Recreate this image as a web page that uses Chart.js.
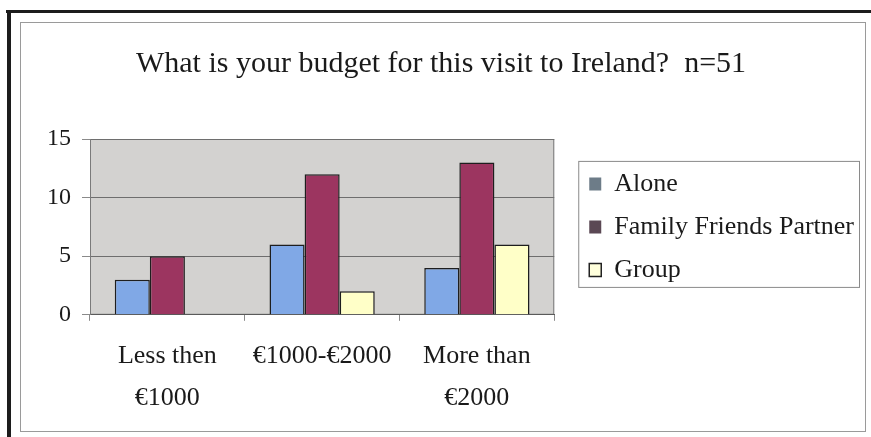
<!DOCTYPE html>
<html>
<head>
<meta charset="utf-8">
<title>Budget for visit to Ireland</title>
<script src="https://cdn.jsdelivr.net/npm/chart.js@4/dist/chart.umd.min.js"></script>
<style>
    html, body { margin: 0; padding: 0; background: #ffffff; }
    #wrap { position: relative; width: 871px; height: 437px; overflow: hidden; }
    /* scanned frame round the chart */
    .edge-top { position: absolute; left: 6px; top: 10px; width: 865px; height: 3px; background: #1c1c1c; }
    .edge-left { position: absolute; left: 7px; top: 10px; width: 4px; height: 427px; background: #1c1c1c; }
    .inner { position: absolute; left: 20px; top: 22px; width: 844px; height: 408px; border: 1px solid #9a9a9a; }
    canvas { position: absolute; left: 0; top: 0; }
</style>
</head>
<body>
<div id="wrap">
    <div class="edge-top"></div>
    <div class="edge-left"></div>
    <div class="inner"></div>
    <canvas id="budgetChart" width="871" height="437"></canvas>
</div>
<script>
// Chart data
const categories = [['Less then', '€1000'], '€1000-€2000', ['More than', '€2000']];
const aloneValues = [3, 6, 4];
const familyValues = [5, 12, 13];
const groupValues = [0, 2, 6];
const seriesNames = ['Alone', 'Family Friends Partner', 'Group'];
const yTicks = [0, 5, 10, 15];

const serif = "'Liberation Serif', 'Times New Roman', serif";
const inkColor = '#1a1a1a';

// Legend swatches look different from the bars in the original
const legendSwatches = [
    { fill: '#6d7c88', stroke: '#6d7c88', width: 0 },
    { fill: '#5b4854', stroke: '#5b4854', width: 0 },
    { fill: '#ffffdc', stroke: '#222222', width: 1.5 }
];

// Gray plot background with a thin frame
const plotBackground = {
    id: 'plotBackground',
    beforeDraw(chart) {
        const { ctx, chartArea: a } = chart;
        ctx.save();
        ctx.fillStyle = '#d3d2d0';
        ctx.fillRect(a.left, a.top, a.right - a.left, a.bottom - a.top);
        ctx.strokeStyle = '#7a7a7a';
        ctx.lineWidth = 1;
        ctx.strokeRect(a.left + 0.5, a.top + 0.5, a.right - a.left - 1, a.bottom - a.top - 1);
        ctx.restore();
    }
};

// Push the legend a little away from the plot and box it in
// (hit boxes get rebuilt from legend.left after layout, so only move the legend)
const legendFrame = {
    id: 'legendFrame',
    afterLayout(chart) {
        const legend = chart.legend;
        const shift = 18;
        legend.left += shift;
        legend.right += shift;
    },
    afterDraw(chart) {
        const boxes = chart.legend.legendHitBoxes;
        if (!boxes.length) return;
        const first = boxes[0];
        const last = boxes[boxes.length - 1];
        let right = 0;
        boxes.forEach(box => { right = Math.max(right, box.left + box.width); });
        const ctx = chart.ctx;
        ctx.save();
        ctx.strokeStyle = '#8a8a8a';
        ctx.lineWidth = 1;
        ctx.strokeRect(first.left - 10.5, first.top - 9.5, right - first.left + 16, last.top + last.height - first.top + 14);
        ctx.restore();
    }
};

const ctx = document.getElementById('budgetChart').getContext('2d');
new Chart(ctx, {
    type: 'bar',
    data: {
        labels: categories,
        datasets: [
            {
                label: seriesNames[0],
                data: aloneValues,
                backgroundColor: '#80a8e6',
                borderColor: '#1e1e1e',
                borderWidth: 1.5
            },
            {
                label: seriesNames[1],
                data: familyValues,
                backgroundColor: '#9c3560',
                borderColor: '#1e1e1e',
                borderWidth: 1.5
            },
            {
                label: seriesNames[2],
                data: groupValues,
                backgroundColor: '#ffffc8',
                borderColor: '#1e1e1e',
                borderWidth: 1.5
            }
        ]
    },
    options: {
        responsive: false,
        animation: false,
        layout: {
            padding: { left: 36, right: 25, top: 0, bottom: 3 }
        },
        datasets: {
            bar: {
                categoryPercentage: 0.68,
                barPercentage: 1.0
            }
        },
        scales: {
            x: {
                grid: {
                    offset: true,
                    drawOnChartArea: false,
                    drawTicks: true,
                    tickLength: 6,
                    color: '#8a8a8a'
                },
                border: { display: true, color: '#5a5a5a', width: 1 },
                ticks: {
                    color: inkColor,
                    padding: 15,
                    maxRotation: 0,
                    font: { family: serif, size: 26, lineHeight: 1.6 }
                }
            },
            y: {
                min: 0,
                max: 15,
                afterBuildTicks(scale) {
                    scale.ticks = yTicks.map(v => ({ value: v }));
                },
                grid: {
                    color: '#6e6e6e',
                    tickColor: '#8a8a8a',
                    tickLength: 8,
                    lineWidth: 1
                },
                border: { display: true, color: '#7a7a7a', width: 1 },
                ticks: {
                    color: inkColor,
                    padding: 11,
                    font: { family: serif, size: 24 }
                }
            }
        },
        plugins: {
            title: {
                display: true,
                text: 'What is your budget for this visit to Ireland?  n=51',
                color: inkColor,
                font: { family: serif, size: 30, weight: 'normal' },
                padding: { top: 46, bottom: 57 }
            },
            legend: {
                position: 'right',
                fullSize: false,
                maxWidth: 320,
                labels: {
                    color: inkColor,
                    boxWidth: 12,
                    boxHeight: 13,
                    padding: 17,
                    font: { family: serif, size: 26 },
                    generateLabels(chart) {
                        return chart.data.datasets.map((ds, i) => ({
                            text: ds.label,
                            fillStyle: legendSwatches[i].fill,
                            strokeStyle: legendSwatches[i].stroke,
                            lineWidth: legendSwatches[i].width,
                            fontColor: inkColor,
                            hidden: false,
                            datasetIndex: i
                        }));
                    }
                }
            },
            tooltip: { enabled: false }
        }
    },
    plugins: [plotBackground, legendFrame]
});
</script>
</body>
</html>
